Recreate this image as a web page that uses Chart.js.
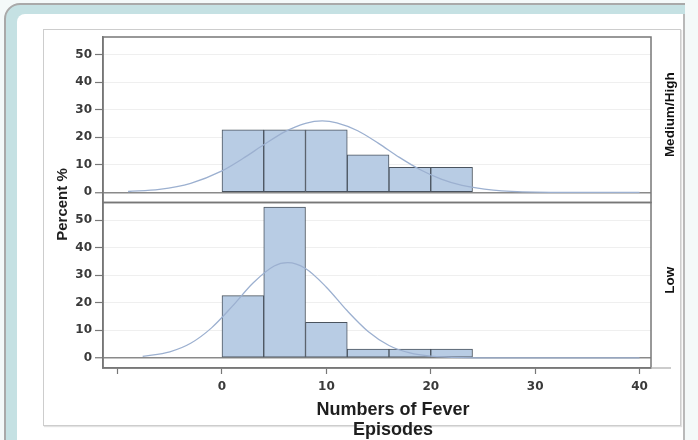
<!DOCTYPE html>
<html>
<head>
<meta charset="utf-8">
<script src="https://cdn.jsdelivr.net/npm/chart.js@4.4.1/dist/chart.umd.min.js"></script>
<style>
  html, body { margin: 0; padding: 0; background: #fff; }
  #wrap { position: relative; width: 698px; height: 440px; overflow: hidden; background: #f4f9f9; }
  .outer { position: absolute; left: 4px; top: 3px; width: 720px; height: 480px;
           border: 2px solid #a9a9a9; border-radius: 16px; background: #c5e1e3; }
  .inner { position: absolute; left: 17px; top: 14px; width: 666px; height: 440px;
           background: #fff; border-top-left-radius: 8px; border-right: 2px solid #b9b9b9; }
  .edge { position: absolute; left: 685px; top: 0; width: 20px; height: 440px; background: #f4f9f9; }
  .frame { position: absolute; left: 43px; top: 29px; width: 636px; height: 395px;
           border: 1.5px solid #cdcdcd; box-shadow: 1px 1px 1px #e2e2e2; }
  canvas { position: absolute; left: 0; top: 0; }
</style>
</head>
<body>
<div id="wrap">
  <div class="outer"></div>
  <div class="inner"></div>
  <div class="edge"></div>
  <div class="frame"></div>
  <canvas id="hist" width="698" height="440"></canvas>
</div>
<script>
// histogram bins (width 4), percent of children per bin
const binCenters = [2, 6, 10, 14, 18, 22];
const pctMediumHigh = [22.7, 22.7, 22.7, 13.6, 9.1, 9.1];
const pctLow = [22.6, 54.8, 12.9, 3.2, 3.2, 3.2];

// normal curves
const curveXMediumHigh = [-9, -6, -3, 0, 2, 4, 6, 8, 9.6, 11, 13, 15, 17, 19, 21, 23, 26, 30, 35, 40];
const curveYMediumHigh = [0.3, 1.1, 3.3, 7.8, 12.3, 17.3, 22.0, 25.1, 26.0, 25.3, 22.4, 17.8, 12.7, 8.2, 4.8, 2.5, 0.8, 0.1, 0, 0];
const curveXLow = [-7.6, -5, -3, -1, 1, 3, 5, 6.3, 8, 10, 12, 14, 16, 18, 20, 23, 28, 40];
const curveYLow = [0.5, 2.2, 5.3, 10.9, 18.8, 27.3, 33.4, 34.6, 32.5, 25.7, 17.1, 9.6, 4.5, 1.8, 0.6, 0.1, 0, 0];

const yTickValues = [0, 10, 20, 30, 40, 50];
const xTickValues = [-10, 0, 10, 20, 30, 40];
const panelLabels = ['Medium/High', 'Low'];
const yTitle = 'Percent %';
const xTitle = ['Numbers of Fever', 'Episodes'];

const barFill = '#b8cce4';
const barEdge = '#4a535e';
const curveColor = '#9cb0d0';
const frameColor = '#777';

function toPoints(xs, ys) {
  return xs.map((x, i) => ({ x: x, y: ys[i] }));
}

function barSet(values, axis) {
  return {
    type: 'bar',
    data: toPoints(binCenters, values),
    yAxisID: axis,
    backgroundColor: barFill,
    borderColor: barEdge,
    borderWidth: 1,
    borderSkipped: false,
    barPercentage: 1,
    categoryPercentage: 1,
    grouped: false,
    order: 2
  };
}

function curveSet(xs, ys, axis) {
  return {
    type: 'line',
    data: toPoints(xs, ys),
    yAxisID: axis,
    borderColor: curveColor,
    borderWidth: 1.3,
    pointRadius: 0,
    cubicInterpolationMode: 'monotone',
    fill: false,
    order: 1
  };
}

const tickFont = { family: 'DejaVu Sans', size: 12, weight: 'bold' };

function panelAxis(weight) {
  return {
    type: 'linear',
    position: 'left',
    stack: 'panels',
    stackWeight: 1,
    weight: weight,
    min: -3.7,
    max: 56.5,
    afterBuildTicks: s => { s.ticks = yTickValues.map(v => ({ value: v })); },
    afterFit: s => { s.width = 45; },
    border: { display: true, color: frameColor, width: 1.5 },
    grid: {
      color: c => (c.tick && c.tick.value === 0 ? '#8a8a8a' : '#efefef'),
      lineWidth: c => (c.tick && c.tick.value === 0 ? 1.5 : 1),
      tickColor: '#777',
      tickLength: 8,
      tickWidth: 1.2
    },
    ticks: { color: '#3a3a3a', font: tickFont, padding: 3 }
  };
}

const panelDecor = {
  id: 'panelDecor',
  afterDraw(chart) {
    const ctx = chart.ctx;
    const area = chart.chartArea;
    const panels = [chart.scales.yTop, chart.scales.yLow];
    ctx.save();
    ctx.strokeStyle = frameColor;
    ctx.lineWidth = 1.5;
    panels.forEach(s => {
      ctx.strokeRect(area.left, s.top, area.right - area.left, s.bottom - s.top);
    });

    // x axis line runs a little past the panels, as in the source
    ctx.beginPath();
    ctx.moveTo(area.right, area.bottom);
    ctx.lineTo(area.right + 20, area.bottom);
    ctx.strokeStyle = '#bbb';
    ctx.stroke();

    // row labels at the right
    ctx.fillStyle = '#111';
    ctx.font = 'bold 13.5px "Liberation Sans", Arial, sans-serif';
    ctx.textAlign = 'center';
    ctx.textBaseline = 'middle';
    panels.forEach((s, i) => {
      ctx.save();
      ctx.translate(area.right + 19, (s.top + s.bottom) / 2 - 5);
      ctx.rotate(-Math.PI / 2);
      ctx.fillText(panelLabels[i], 0, 0);
      ctx.restore();
    });

    // y title
    ctx.fillStyle = '#1e1e1e';
    ctx.font = 'bold 15px "Liberation Sans", Arial, sans-serif';
    ctx.save();
    ctx.translate(area.left - 40, (area.top + area.bottom) / 2 + 2);
    ctx.rotate(-Math.PI / 2);
    ctx.fillText(yTitle, 0, 0);
    ctx.restore();

    // x title
    ctx.font = 'bold 18px "Liberation Sans", Arial, sans-serif';
    ctx.textBaseline = 'alphabetic';
    const cx = (area.left + area.right + 32) / 2;
    xTitle.forEach((line, i) => {
      ctx.fillText(line, cx, area.bottom + 47 + i * 20);
    });
    ctx.restore();
  }
};

new Chart(document.getElementById('hist'), {
  data: {
    datasets: [
      barSet(pctMediumHigh, 'yTop'),
      barSet(pctLow, 'yLow'),
      curveSet(curveXMediumHigh, curveYMediumHigh, 'yTop'),
      curveSet(curveXLow, curveYLow, 'yLow')
    ]
  },
  options: {
    responsive: false,
    animation: false,
    layout: { padding: { left: 58, right: 47, top: 37, bottom: 42 } },
    plugins: { legend: { display: false }, tooltip: { enabled: false } },
    scales: {
      x: {
        type: 'linear',
        min: -11.4,
        max: 41.1,
        offset: false,
        afterBuildTicks: s => { s.ticks = xTickValues.map(v => ({ value: v })); },
        afterFit: s => { s.height = 30; },
        border: { display: true, color: frameColor, width: 1.5 },
        grid: { offset: false, drawOnChartArea: false, tickLength: 6, tickColor: '#777', tickWidth: 1.2 },
        ticks: {
          color: '#3a3a3a',
          font: tickFont,
          padding: 6,
          autoSkip: false,
          maxRotation: 0,
          callback: v => (v === -10 ? '' : v)
        }
      },
      yTop: panelAxis(2),
      yLow: panelAxis(1)
    }
  },
  plugins: [panelDecor]
});
</script>
</body>
</html>
